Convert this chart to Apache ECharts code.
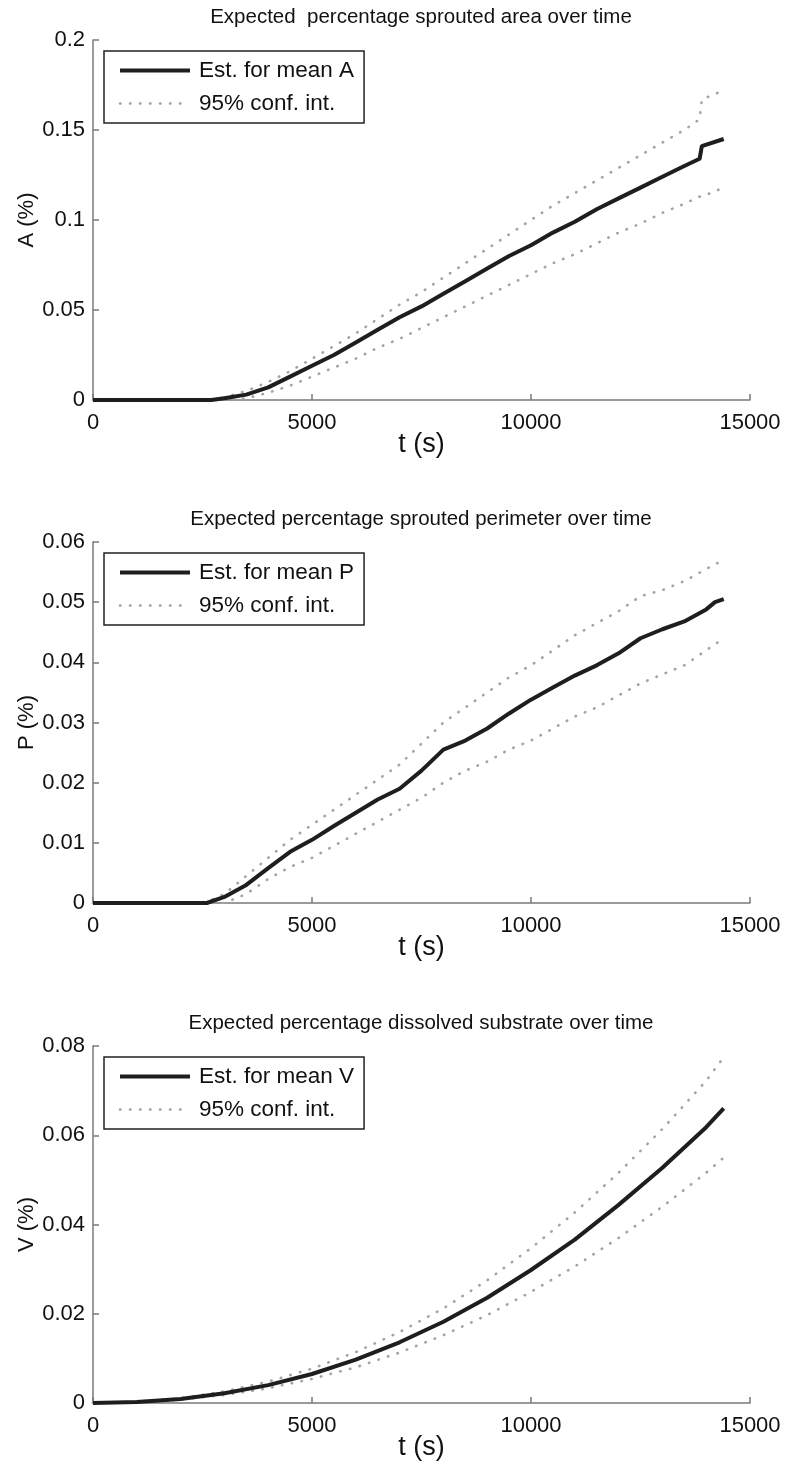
<!DOCTYPE html>
<html>
<head>
<meta charset="utf-8">
<script src="https://cdn.jsdelivr.net/npm/echarts@6/dist/echarts.min.js"></script>
<style>
  html, body { margin: 0; padding: 0; background: #fff; }
  #chart { width: 786px; height: 1467px; }
</style>
</head>
<body>
<div id="chart"></div>
<script>
// Three stacked panels: sprouted area, sprouted perimeter, dissolved substrate

const panelTitles = [
  'Expected  percentage sprouted area over time',
  'Expected percentage sprouted perimeter over time',
  'Expected percentage dissolved substrate over time'
];
const yNames = ['A (%)', 'P (%)', 'V (%)'];
const meanNames = ['Est. for mean A', 'Est. for mean P', 'Est. for mean V'];
const ciName = '95% conf. int.';
const yMax = [0.2, 0.06, 0.08];
const yStep = [0.05, 0.01, 0.02];

// panel A
const tA = [0, 1000, 2000, 2700, 3000, 3500, 4000, 4500, 5000, 5500, 6000, 6500, 7000, 7500,
  8000, 8500, 9000, 9500, 10000, 10500, 11000, 11500, 12000, 12500, 13000, 13500, 13850, 13900, 14400];
const meanA = [0, 0, 0, 0, 0.001, 0.003, 0.007, 0.013, 0.019, 0.025, 0.032, 0.039, 0.046, 0.052,
  0.059, 0.066, 0.073, 0.080, 0.086, 0.093, 0.099, 0.106, 0.112, 0.118, 0.124, 0.130, 0.134, 0.141, 0.145];
const upperA = [0, 0, 0, 0, 0.0015, 0.005, 0.010, 0.016, 0.023, 0.030, 0.037, 0.045, 0.053, 0.060,
  0.068, 0.076, 0.084, 0.092, 0.100, 0.108, 0.115, 0.122, 0.129, 0.136, 0.143, 0.150, 0.156, 0.167, 0.172];
const lowerA = [0, 0, 0, 0, 0, 0.001, 0.004, 0.008, 0.013, 0.018, 0.023, 0.029, 0.034, 0.040,
  0.046, 0.052, 0.058, 0.064, 0.070, 0.076, 0.081, 0.087, 0.093, 0.098, 0.104, 0.109, 0.113, 0.113, 0.118];

// panel P
const tP = [0, 1000, 2000, 2600, 3000, 3500, 4000, 4500, 5000, 5500, 6000, 6500, 7000, 7500,
  8000, 8500, 9000, 9500, 10000, 10500, 11000, 11500, 12000, 12500, 13000, 13500, 14000, 14200, 14400];
const meanP = [0, 0, 0, 0, 0.001, 0.003, 0.0058, 0.0085, 0.0105, 0.0128, 0.015, 0.0172, 0.019, 0.022,
  0.0255, 0.027, 0.029, 0.0315, 0.0338, 0.0358, 0.0378, 0.0395, 0.0415, 0.044, 0.0455, 0.0468, 0.0488, 0.050, 0.0505];
const upperP = [0, 0, 0, 0.0002, 0.0015, 0.0045, 0.0075, 0.0105, 0.013, 0.0155, 0.018, 0.0205, 0.023, 0.0265,
  0.030, 0.0325, 0.035, 0.0375, 0.0395, 0.042, 0.0445, 0.0465, 0.0485, 0.051, 0.052, 0.0535, 0.0555, 0.0563, 0.057];
const lowerP = [0, 0, 0, 0, 0, 0.0015, 0.004, 0.006, 0.0075, 0.0095, 0.0115, 0.0135, 0.0155, 0.0175,
  0.020, 0.022, 0.0235, 0.0255, 0.027, 0.029, 0.031, 0.0325, 0.0345, 0.0365, 0.038, 0.0395, 0.042, 0.043, 0.044];

// panel V
const tV = [0, 1000, 2000, 3000, 4000, 5000, 6000, 7000, 8000, 9000, 10000, 11000, 12000, 13000, 14000, 14400];
const meanV = [0, 0.0002, 0.0009, 0.0022, 0.0040, 0.0065, 0.0097, 0.0136, 0.0182, 0.0236,
  0.0298, 0.0366, 0.0444, 0.0527, 0.0618, 0.0660];
const upperV = [0, 0.0003, 0.0011, 0.0026, 0.0048, 0.0077, 0.0114, 0.0159, 0.0212, 0.0275,
  0.0347, 0.0427, 0.0516, 0.0614, 0.0722, 0.0775];
const lowerV = [0, 0.0002, 0.0008, 0.0018, 0.0033, 0.0054, 0.0080, 0.0113, 0.0152, 0.0197,
  0.0249, 0.0306, 0.0370, 0.0440, 0.0516, 0.0550];

const panels = [
  { t: tA, mean: meanA, upper: upperA, lower: lowerA },
  { t: tP, mean: meanP, upper: upperP, lower: lowerP },
  { t: tV, mean: meanV, upper: upperV, lower: lowerV }
];

const gridTops = [40, 542, 1046];
const gridHeights = [360, 361, 357];
const FONT = '"Liberation Sans", Arial, sans-serif';
const axisGray = '#7a7a7a';

const zip = (xs, ys) => xs.map((x, i) => [x, ys[i]]);

const meanStyle = { color: '#1e1e1e', width: 4 };
const ciStyle = { color: '#a3a3a3', width: 2.6, type: [0.5, 9.5], cap: 'round' };

const option = {
  animation: false,
  backgroundColor: '#fff',
  title: panelTitles.map((text, i) => ({
    text,
    left: 416,
    textAlign: 'center',
    top: gridTops[i] - 38,
    textStyle: { fontFamily: FONT, fontSize: 20.5, fontWeight: 'normal', color: '#111' }
  })),
  legend: panels.map((p, i) => ({
    data: [meanNames[i], ciName],
    orient: 'vertical',
    left: 104,
    top: gridTops[i] + 11,
    itemWidth: 70,
    itemHeight: 14,
    itemGap: 10,
    padding: [8, 10, 8, 14],
    borderColor: '#222',
    borderWidth: 1.5,
    selectedMode: false,
    itemStyle: { opacity: 0 },
    lineStyle: { width: 'inherit' },
    textStyle: { fontFamily: FONT, fontSize: 22.5, color: '#111', padding: [0, 0, 0, 4] }
  })),
  grid: gridTops.map((top, i) => ({
    left: 93, width: 657, top, height: gridHeights[i], containLabel: false
  })),
  xAxis: panels.map((p, i) => ({
    type: 'value',
    gridIndex: i,
    min: 0, max: 15000, interval: 5000,
    name: 't (s)',
    nameLocation: 'middle',
    nameGap: 31,
    nameMoveOverlap: false,
    nameTextStyle: { fontFamily: FONT, fontSize: 27, color: '#111' },
    axisLine: { lineStyle: { color: axisGray, width: 1.5 } },
    axisTick: { inside: true, length: 6, lineStyle: { color: axisGray, width: 1.5 } },
    axisLabel: { margin: 12, fontFamily: FONT, fontSize: 22, color: '#111', formatter: v => String(v) },
    splitLine: { show: false }
  })),
  yAxis: panels.map((p, i) => ({
    type: 'value',
    gridIndex: i,
    min: 0, max: yMax[i], interval: yStep[i],
    name: yNames[i],
    nameLocation: 'middle',
    nameGap: 55,
    nameMoveOverlap: false,
    nameTextStyle: { fontFamily: FONT, fontSize: 22, color: '#111' },
    axisLine: { show: true, lineStyle: { color: axisGray, width: 1.5 } },
    axisTick: { show: true, inside: true, length: 6, lineStyle: { color: axisGray, width: 1.5 } },
    axisLabel: { margin: 8, fontFamily: FONT, fontSize: 22, color: '#111', formatter: v => String(+v.toFixed(4)) },
    splitLine: { show: false }
  })),
  series: []
};

panels.forEach((p, i) => {
  option.series.push({
    name: meanNames[i], type: 'line', xAxisIndex: i, yAxisIndex: i,
    data: zip(p.t, p.mean), showSymbol: false, symbol: 'none',
    lineStyle: meanStyle, itemStyle: { color: meanStyle.color }, z: 3
  });
  option.series.push({
    name: ciName, type: 'line', xAxisIndex: i, yAxisIndex: i,
    data: zip(p.t, p.upper), showSymbol: false, symbol: 'none',
    lineStyle: ciStyle, itemStyle: { color: ciStyle.color }, z: 2
  });
  option.series.push({
    name: ciName, type: 'line', xAxisIndex: i, yAxisIndex: i,
    data: zip(p.t, p.lower), showSymbol: false, symbol: 'none',
    lineStyle: ciStyle, itemStyle: { color: ciStyle.color }, z: 2
  });
});

const chart = echarts.init(document.getElementById('chart'), null, { renderer: 'canvas' });
chart.setOption(option);
</script>
</body>
</html>
